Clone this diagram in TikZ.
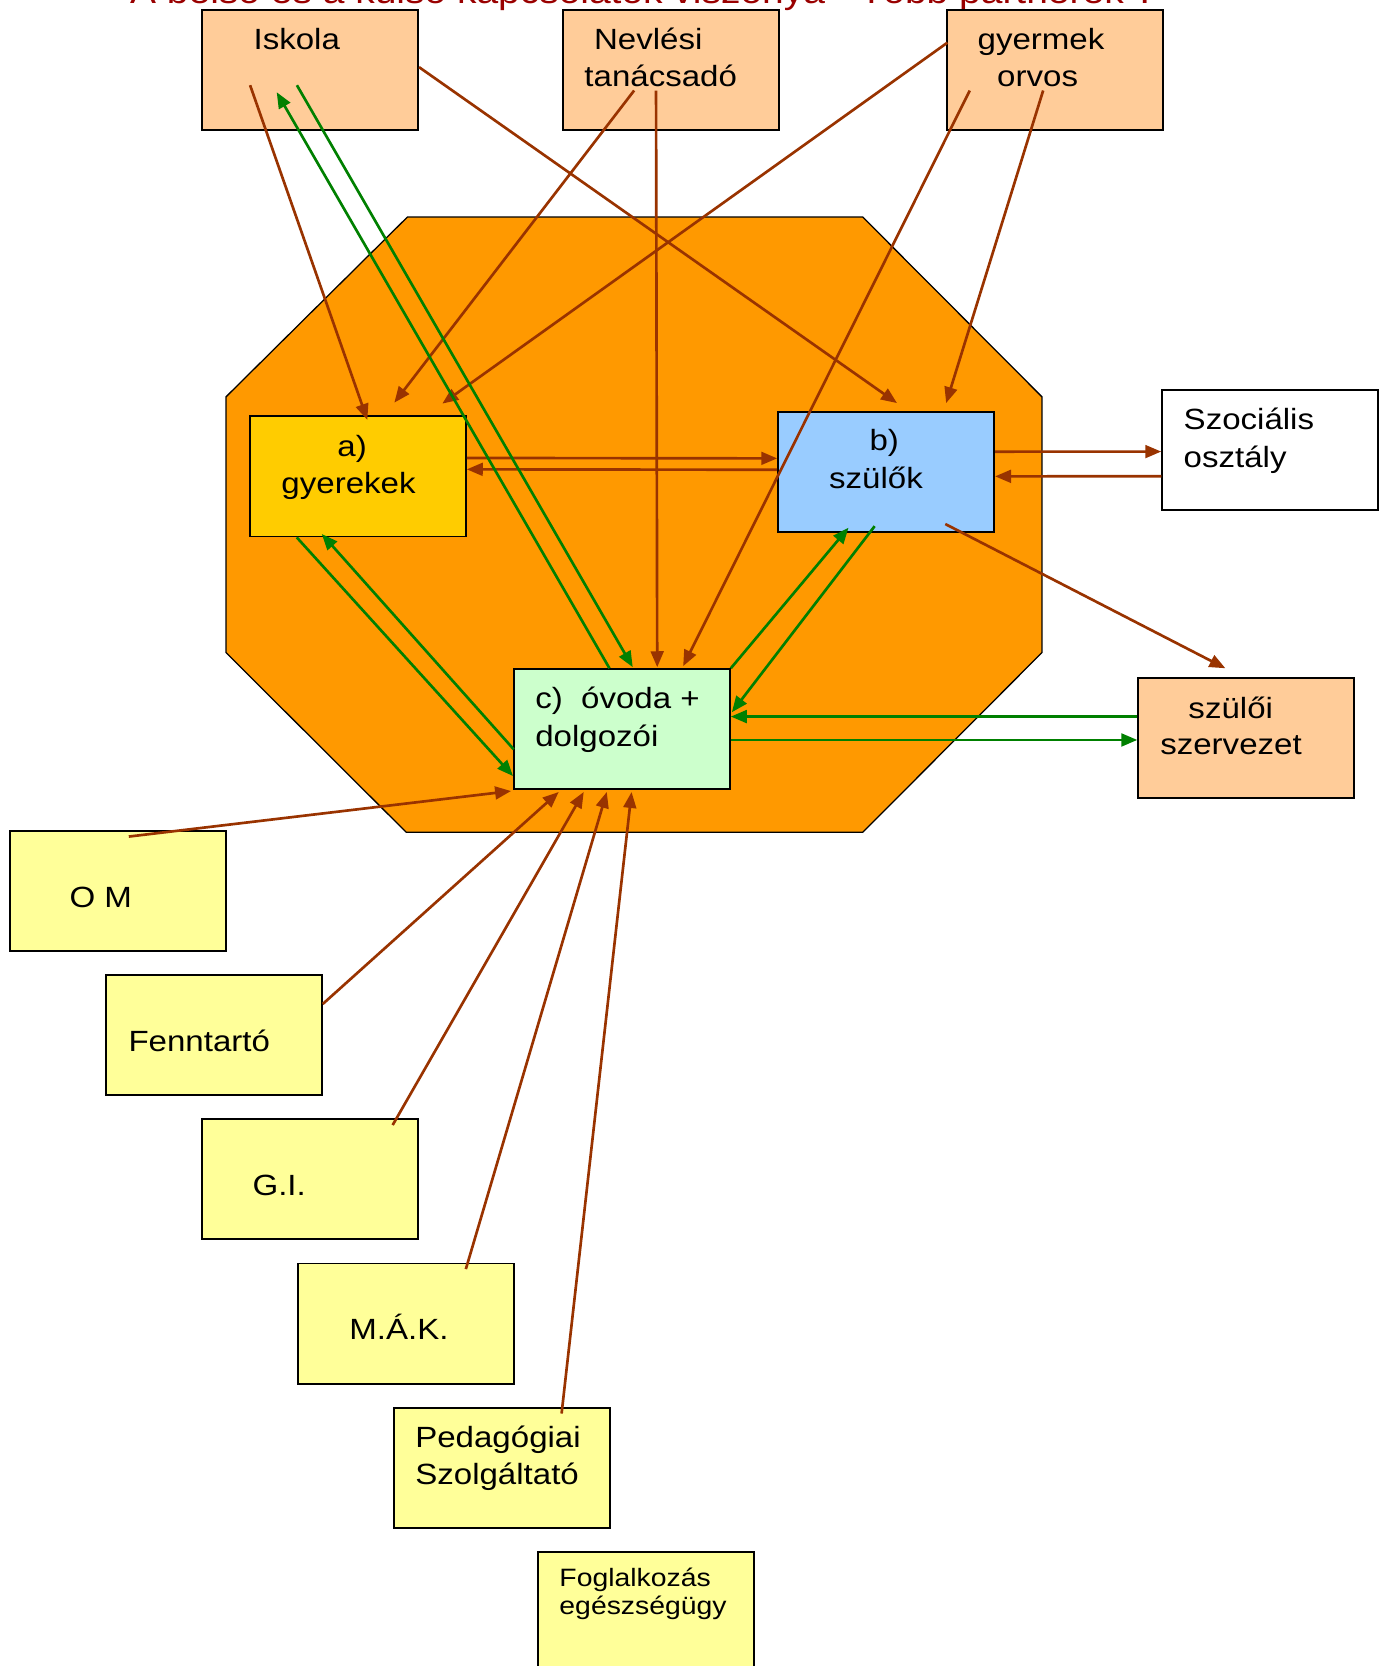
\documentclass[tikz,border=0pt]{standalone}
\usepackage{fontspec}
\setmainfont{Liberation Sans}[FakeStretch=1.13]
\usetikzlibrary{arrows.meta,calc}
\definecolor{peach}{HTML}{FFCC99}
\definecolor{octo}{HTML}{FF9900}
\definecolor{gyfill}{HTML}{FFCC00}
\definecolor{szfill}{HTML}{99CCFF}
\definecolor{ovfill}{HTML}{CCFFCC}
\definecolor{yel}{HTML}{FFFF99}
\definecolor{brn}{HTML}{993300}
\definecolor{grn}{HTML}{008000}
\definecolor{titlered}{HTML}{990000}
\tikzset{
  box/.style={draw=black, line width=0.9pt, minimum width=101.5pt, minimum height=56.5pt, inner sep=0pt},
  lbl/.style={anchor=base west, inner sep=0pt, font=\fontsize{13.75pt}{17.2pt}\selectfont},
  small/.style={anchor=base west, inner sep=0pt, font=\fontsize{11.8pt}{13.5pt}\selectfont},
  barrow/.style={draw=brn, line width=1.25pt, -{Triangle[length=7.5pt,width=6pt]}},
  garrow/.style={draw=grn, line width=1.25pt, -{Triangle[length=7.5pt,width=6pt]}}
}
\begin{document}
\begin{tikzpicture}[x=0.5pt,y=-0.5pt]
\useasboundingbox (0,0) rectangle (1300,1566.1);
% title (cut by the top edge, as in the reference)
\node[anchor=base west, inner sep=0pt, font=\fontsize{16.2pt}{19pt}\selectfont, text=titlered] (title) at (122,3) {A belső és a külső kapcsolatok viszonya - Több partnerek ?};
% octagon
\draw[fill=octo, draw=black, line width=0.6pt] (383,204) -- (811,204) -- (979.4,373) -- (979.4,613.5) -- (811,782.4) -- (381.9,782.4) -- (212.5,613.5) -- (212.5,373) -- cycle;
% boxes
\node[box, fill=peach] (isk) at (291.5,65.5) {};
\node[box, fill=peach] (nev) at (630.5,65.5) {};
\node[box, fill=peach] (orv) at (992,65.5) {};
\node[box, fill=gyfill] (gy) at (336.4,447.8) {};
\node[box, fill=szfill] (sz) at (833,443.5) {};
\node[box, fill=ovfill] (ov) at (584.6,685.6) {};
\node[box, fill=white] (szoc) at (1194,423) {};
\node[box, fill=peach] (szsz) at (1171.5,694) {};
\node[box, fill=yel] (om) at (111,837.6) {};
\node[box, fill=yel] (fen) at (201,973) {};
\node[box, fill=yel] (gi) at (291.5,1108.5) {};
\node[box, fill=yel] (mak) at (381.8,1244.2) {};
\node[box, fill=yel] (ped) at (472,1379.7) {};
\node[box, fill=yel] (fog) at (607.1,1515.1) {};
% texts
\node[lbl] (tisk) at (238,47) {Iskola};
\node[lbl] (tnev1) at (558,47) {Nevlési};
\node[lbl] (tnev2) at (549,81.5) {tanácsadó};
\node[lbl] (torv1) at (918.6,47) {gyermek};
\node[lbl] (torv2) at (937,81.5) {orvos};
\node[lbl] (tgy1) at (316.8,429.3) {a)};
\node[lbl] (tgy2) at (264.2,463.7) {gyerekek};
\node[lbl] (tsz1) at (817,423.6) {b)};
\node[lbl] (tsz2) at (779,459) {szülők};
\node[lbl] (tov1) at (502.8,665.8) {c)\ \ óvoda +};
\node[lbl] (tov2) at (502.8,701.3) {dolgozói};
\node[lbl] (tszoc1) at (1112.3,404.2) {Szociális};
\node[lbl] (tszoc2) at (1112.3,439.3) {osztály};
\node[lbl] (tszsz1) at (1116.8,675.3) {szülői};
\node[lbl] (tszsz2) at (1090.3,709.7) {szervezet};
\node[lbl] (tom) at (65,853) {O M};
\node[lbl] (tfen) at (120.4,988.6) {Fenntartó};
\node[lbl] (tgi) at (237,1123.4) {G.I.};
\node[lbl] (tmak) at (328,1258.7) {M.Á.K.};
\node[lbl] (tped1) at (390,1360.9) {Pedagógiai};
\node[lbl] (tped2) at (390,1395.3) {Szolgáltató};
\node[small] (tfog1) at (525.5,1491.5) {Foglalkozás};
\node[small] (tfog2) at (525.5,1518) {egészségügy};
% brown connectors
\draw[barrow] ([shift={(46,72)}]isk.north west) -- ([shift={(111.3,4.3)}]gy.north west);
\draw[barrow] ([shift={(0,55)}]isk.north east) -- ([shift={(112.6,-7.2)}]sz.north west);
\draw[barrow] ([shift={(68,77)}]nev.north west) -- ([shift={(136.7,-11.9)}]gy.north west);
\draw[barrow] ([shift={(88.6,77)}]nev.north west) -- ([shift={(135.6,-1)}]ov.north west);
\draw[barrow] ([shift={(1,32)}]orv.north west) -- ([shift={(181.8,-11)}]gy.north west);
\draw[barrow] ([shift={(22,77)}]orv.north west) -- ([shift={(160,-2)}]ov.north west);
\draw[barrow] ([shift={(91,77)}]orv.north west) -- ([shift={(158.8,-7.2)}]sz.north west);
\draw[barrow] ([shift={(0,40.1)}]gy.north east) -- ([shift={(0,44.8)}]sz.north west);
\draw[barrow] ([shift={(0,55.5)}]sz.north west) -- ([shift={(0,50.8)}]gy.north east);
\draw[barrow] ([shift={(0,38.5)}]sz.north east) -- ([shift={(0,58.9)}]szoc.north west);
\draw[barrow] ([shift={(0,82.1)}]szoc.north west) -- ([shift={(0,61.7)}]sz.north east);
\draw[barrow] ([shift={(158,106.5)}]sz.north west) -- ([shift={(82.8,-8.4)}]szsz.north west);
\draw[barrow] ([shift={(112.5,6.2)}]om.north west) -- ([shift={(-1.8,0.6)}]ov.south west);
\draw[barrow] ([shift={(0,28.2)}]fen.north east) -- ([shift={(43,1.5)}]ov.south west);
\draw[barrow] ([shift={(180,6.5)}]gi.north west) -- ([shift={(66.5,1.5)}]ov.south west);
\draw[barrow] ([shift={(158.5,6.2)}]mak.north west) -- ([shift={(88.2,1.5)}]ov.south west);
\draw[barrow] ([shift={(158.3,6.5)}]ped.north west) -- ([shift={(111.5,1.5)}]ov.south west);
% green connectors
\draw[garrow] ([shift={(90.7,0)}]ov.north west) -- ([shift={(71,78.6)}]isk.north west);
\draw[garrow] ([shift={(90,72)}]isk.north west) -- ([shift={(112.6,-1)}]ov.north west);
\draw[garrow] ([shift={(45,0)}]gy.south west) -- ([shift={(0,-13.5)}]ov.south west);
\draw[garrow] ([shift={(0.7,-38.6)}]ov.south west) -- ([shift={(68.5,-3.2)}]gy.south west);
\draw[garrow] (ov.north east) -- ([shift={(67,-4.8)}]sz.south west);
\draw[garrow] ([shift={(91.6,-6.3)}]sz.south west) -- ([shift={(1,41.3)}]ov.north east);
\draw[garrow] ([shift={(0,37)}]szsz.north west) -- ([shift={(0,45.4)}]ov.north east);
\draw[garrow] ([shift={(0,67.4)}]ov.north east) -- ([shift={(0,59)}]szsz.north west);
\end{tikzpicture}
\end{document}
